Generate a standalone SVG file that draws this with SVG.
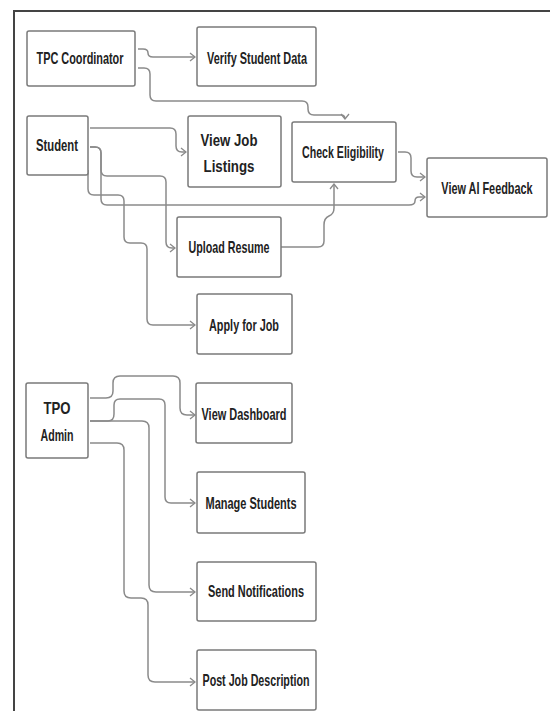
<svg xmlns="http://www.w3.org/2000/svg" width="550" height="711" viewBox="0 0 550 711">
<defs>
<marker id="arr" viewBox="0 0 10 10" refX="9" refY="5" markerWidth="10" markerHeight="10" markerUnits="userSpaceOnUse" orient="auto">
<path d="M4,1 L9,5 L4,9" fill="none" stroke="#8a8a8a" stroke-width="1.3"/>
</marker>
<style>
.box{fill:#fff;stroke:#7a7a7a;stroke-width:1.5}
.lbl{font-family:"Liberation Sans",Arial,sans-serif;font-weight:bold;font-size:17px;fill:#222;text-anchor:middle}
.c{fill:none;stroke:#8a8a8a;stroke-width:1.5;marker-end:url(#arr)}
.frame{stroke:#444;stroke-width:2;fill:none}
</style>
</defs>
<rect width="550" height="711" fill="#fff"/>
<path class="frame" d="M14,711 V11 H550"/>

<g id="connectors">
<path class="c" d="M138,49 H143 Q148,49 148,53 Q148,57 153,57 H195"/>
<path class="c" d="M138,68 H144 Q150,68 150,74 V95 Q150,101 156,101 H302 Q308,101 308,107 V109 Q308,115 314,115 H341 Q345,115 345,119"/>
<path class="c" d="M90,128 H170 Q176,128 176,134 V146 Q176,152 182,152 H186"/>
<path class="c" d="M90,147 H95 Q101,147 101,153 V170 Q101,176 107,176 H160 Q166,176 166,182 V242 Q166,248 172,248 H175"/>
<path class="c" d="M90,147 H95 Q101,147 101,153 V199 Q101,205 107,205 H409 Q415,205 415,201 Q415,197 419,197 H425"/>
<path class="c" d="M88,170 V189 Q88,195 94,195 H118 Q124,195 124,201 V237 Q124,243 130,243 H141 Q147,243 147,249 V319 Q147,325 153,325 H195"/>
<path class="c" d="M281,247 H318 Q324,247 324,241 V225 Q324,218 329,216 Q334,214 334,208 V184"/>
<path class="c" d="M398,152 H405 Q411,152 411,158 V171 Q411,177 417,177 H425"/>
<path class="c" d="M90,398 H106 Q113,398 113,391 V383 Q113,376 120,376 H173 Q180,376 180,383 V408 Q180,415 187,415 H195"/>
<path class="c" d="M90,421 H108 Q114,421 114,414 V405 Q114,399 120,399 H159 Q165,399 165,405 V497 Q165,503 171,503 H195"/>
<path class="c" d="M90,421 H142 Q149,421 149,428 V585 Q149,592 156,592 H195"/>
<path class="c" d="M90,443 H117 Q124,443 124,450 V591 Q124,598 131,598 H141 Q148,598 148,605 V675 Q148,682 155,682 H195"/>
</g>

<g id="tpc-coordinator"><rect class="box" x="27" y="31" width="108" height="55" rx="2"/><text class="lbl" x="80" y="64" textLength="87" lengthAdjust="spacingAndGlyphs">TPC Coordinator</text></g>
<g id="verify-student-data"><rect class="box" x="197" y="27" width="119" height="59" rx="2"/><text class="lbl" x="257" y="64" textLength="100" lengthAdjust="spacingAndGlyphs">Verify Student Data</text></g>
<g id="student"><rect class="box" x="27" y="116" width="61" height="59" rx="2"/><text class="lbl" x="57" y="151" textLength="42" lengthAdjust="spacingAndGlyphs">Student</text></g>
<g id="view-job-listings"><rect class="box" x="188" y="116" width="93" height="71" rx="2"/><text class="lbl" x="229" y="146" textLength="57" lengthAdjust="spacingAndGlyphs">View Job</text><text class="lbl" x="229" y="172" textLength="51" lengthAdjust="spacingAndGlyphs">Listings</text></g>
<g id="check-eligibility"><rect class="box" x="292" y="122" width="104" height="60" rx="2"/><text class="lbl" x="343" y="158" textLength="82" lengthAdjust="spacingAndGlyphs">Check Eligibility</text></g>
<g id="view-ai-feedback"><rect class="box" x="427" y="158" width="120" height="59" rx="2"/><text class="lbl" transform="translate(487 194) scale(0.64 1)">View AI Feedback</text></g>
<g id="upload-resume"><rect class="box" x="177" y="217" width="104" height="60" rx="2"/><text class="lbl" x="229" y="253" textLength="81" lengthAdjust="spacingAndGlyphs">Upload Resume</text></g>
<g id="apply-for-job"><rect class="box" x="197" y="294" width="95" height="60" rx="2"/><text class="lbl" x="244" y="331" textLength="70" lengthAdjust="spacingAndGlyphs">Apply for Job</text></g>
<g id="tpo-admin"><rect class="box" x="26" y="383" width="62" height="75" rx="2"/><text class="lbl" x="57" y="414" textLength="27" lengthAdjust="spacingAndGlyphs">TPO</text><text class="lbl" x="57" y="441" textLength="33" lengthAdjust="spacingAndGlyphs">Admin</text></g>
<g id="view-dashboard"><rect class="box" x="196" y="383" width="96" height="60" rx="2"/><text class="lbl" x="244" y="420" textLength="85" lengthAdjust="spacingAndGlyphs">View Dashboard</text></g>
<g id="manage-students"><rect class="box" x="197" y="472" width="108" height="61" rx="2"/><text class="lbl" x="251" y="509" textLength="91" lengthAdjust="spacingAndGlyphs">Manage Students</text></g>
<g id="send-notifications"><rect class="box" x="197" y="562" width="119" height="59" rx="2"/><text class="lbl" x="256" y="597" textLength="96" lengthAdjust="spacingAndGlyphs">Send Notifications</text></g>
<g id="post-job-description"><rect class="box" x="197" y="650" width="119" height="60" rx="2"/><text class="lbl" x="256" y="686" textLength="107" lengthAdjust="spacingAndGlyphs">Post Job Description</text></g>
</svg>
